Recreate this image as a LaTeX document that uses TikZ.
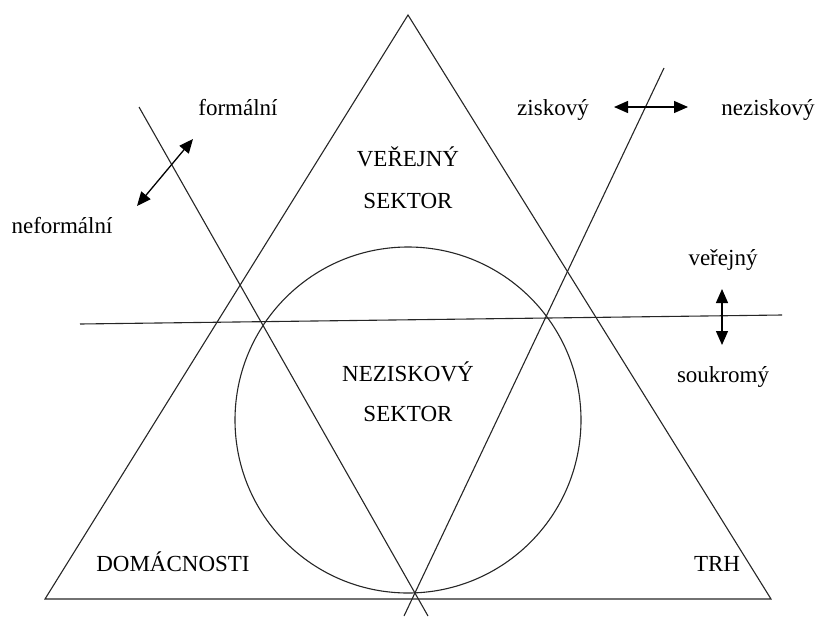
\documentclass[tikz,border=0pt]{standalone}
\usepackage{fontspec}
\setmainfont{Liberation Serif}
\usetikzlibrary{arrows.meta}
\begin{document}
\begin{tikzpicture}[x=1pt,y=-1pt,
  ln/.style={line width=1.1pt, draw=black!85},
  dbl/.style={line width=1.3pt, {Triangle[length=14pt,width=12pt]}-{Triangle[length=14pt,width=12pt]}},
  lbl/.style={anchor=base, inner sep=0pt, font=\fontsize{23}{27}\selectfont}]
\useasboundingbox (0,0) rectangle (822,616);
% triangle
\coordinate (A) at (408,15);
\coordinate (B) at (45,599);
\coordinate (C) at (771,599);
\draw[ln] (A) -- (B) -- (C) -- cycle;
% circle
\node[ln, draw, circle, minimum size=346pt, inner sep=0pt] (circ) at (408,420) {};
% lines
\coordinate (l1a) at (139,107);
\coordinate (l1b) at (428,616);
\coordinate (l2a) at (664,68);
\coordinate (l2b) at (404,616);
\coordinate (h1) at (80,324);
\coordinate (h2) at (782,315);
\draw[ln] (l1a) -- (l1b);
\draw[ln] (l2a) -- (l2b);
\draw[ln] (h1) -- (h2);
% labels
\node[lbl] (formal) at (238,115) {formální};
\node[lbl] (neformal) at (62,233) {neformální};
\node[lbl] (zisk) at (553,115) {ziskový};
\node[lbl] (nezisk) at (768,115) {neziskový};
\node[lbl] (verejny) at (723,265) {veřejný};
\node[lbl] (soukromy) at (723,382) {soukromý};
\node[lbl] (vs1) at (408,166) {VEŘEJNÝ};
\node[lbl] (vs2) at (408,208) {SEKTOR};
\node[lbl] (ns1) at (408,381) {NEZISKOVÝ};
\node[lbl] (ns2) at (408,421) {SEKTOR};
\node[lbl] (dom) at (173,571) {DOMÁCNOSTI};
\node[lbl] (trh) at (717,571) {TRH};
% arrows
\coordinate (fa1) at (137,206);
\coordinate (fa2) at (193,139);
\draw[dbl] (fa1) -- (fa2);
\coordinate (za1) at (614,107);
\coordinate (za2) at (688,107);
\draw[dbl] (za1) -- (za2);
\coordinate (va1) at (722,289);
\coordinate (va2) at (722,345);
\draw[dbl] (va1) -- (va2);
\end{tikzpicture}
\end{document}
